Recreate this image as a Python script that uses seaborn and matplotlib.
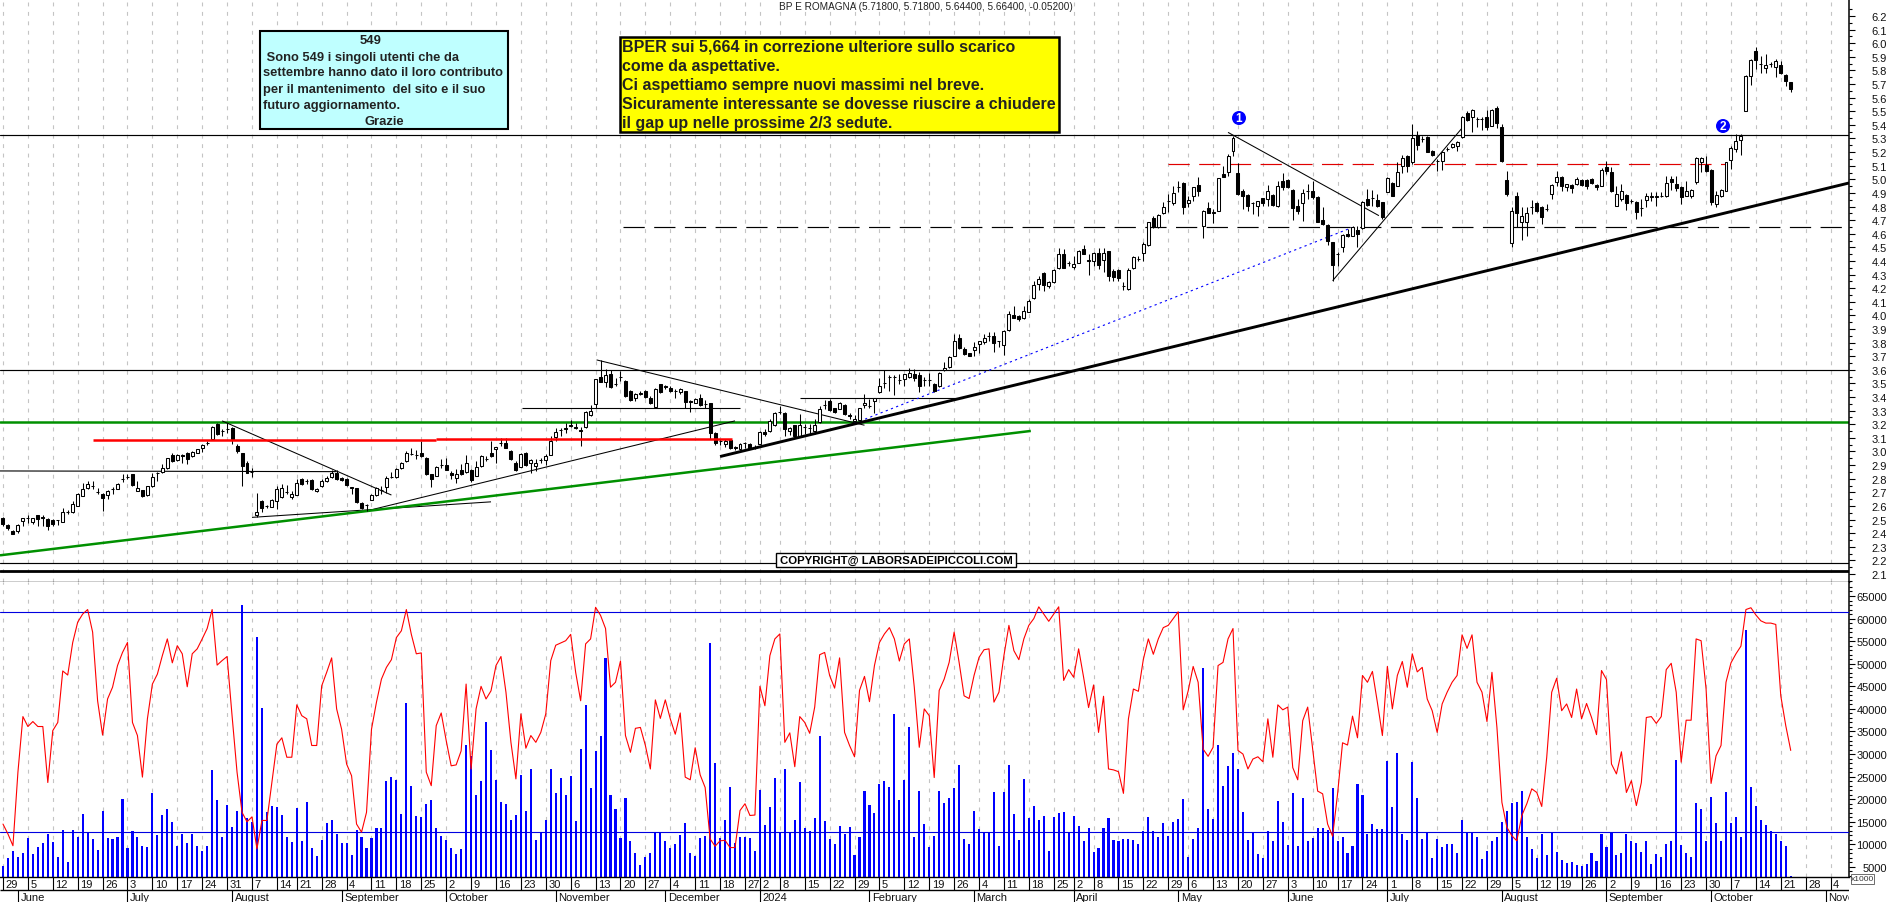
import matplotlib
matplotlib.use("Agg")
import matplotlib.pyplot as plt
import seaborn as sns
import numpy as np
import pandas as pd
from matplotlib.patches import Rectangle, Circle

opens = [
2.514,2.457,2.416,2.416,2.487,2.51,2.482,2.531,2.521,2.506,
2.5,2.497,2.484,2.558,2.558,2.602,2.675,2.732,2.746,2.705,
2.688,2.683,2.727,2.724,2.8,2.815,2.832,2.712,2.715,2.68,
2.746,2.84,2.85,2.879,2.974,2.935,2.975,2.992,2.967,2.992,
3.023,3.065,3.09,3.2,3.15,3.168,3.175,3.04,2.987,2.918,
2.85,2.531,2.636,2.597,2.595,2.636,2.666,2.705,2.666,2.683,
2.795,2.783,2.788,2.71,2.746,2.781,2.815,2.845,2.808,2.795,
2.739,2.729,2.622,2.604,2.644,2.68,2.72,2.742,2.815,2.815,
2.876,2.928,2.984,2.977,2.992,2.955,2.833,2.821,2.904,2.904,
2.845,2.808,2.867,2.85,2.867,2.821,2.894,2.948,2.992,3.021,
3.066,3.066,3.002,2.914,2.889,2.992,2.914,2.894,2.936,2.938,
2.975,3.105,3.159,3.17,3.195,3.178,3.155,3.181,3.269,3.352,
3.551,3.511,3.57,3.494,3.551,3.521,3.445,3.394,3.43,3.445,
3.396,3.328,3.494,3.48,3.47,3.445,3.438,3.443,3.37,3.359,
3.396,3.347,3.359,3.139,3.078,3.058,3.085,3.032,3.017,3.066,
3.058,3.03,3.056,3.144,3.151,3.193,3.293,3.286,3.151,3.193,
3.115,3.183,3.176,3.151,3.217,3.342,3.369,3.318,3.315,3.34,
3.266,3.225,3.232,3.342,3.335,3.372,3.438,3.506,3.551,3.551,
3.528,3.536,3.548,3.573,3.563,3.526,3.529,3.499,3.482,3.6,
3.622,3.703,3.833,3.753,3.721,3.748,3.789,3.806,3.846,3.846,
3.809,3.782,3.895,4.005,3.993,3.978,4.027,4.125,4.228,4.309,
4.218,4.243,4.348,4.451,4.387,4.358,4.387,4.485,4.405,4.402,
4.456,4.404,4.47,4.323,4.333,4.213,4.194,4.348,4.416,4.456,
4.517,4.713,4.647,4.752,4.84,4.823,4.946,4.97,4.823,4.88,
4.955,4.659,4.786,4.75,4.769,5.041,5.051,5.205,5.046,4.911,
4.884,4.826,4.806,4.86,4.855,4.884,4.801,4.99,4.995,4.921,
4.801,4.823,4.911,4.911,4.867,4.698,4.664,4.537,4.451,4.505,
4.595,4.586,4.625,4.639,4.855,4.862,4.85,4.83,4.909,4.973,
4.953,5.1,5.171,5.125,5.325,5.298,5.308,5.205,5.132,5.137,
5.225,5.24,5.247,5.308,5.485,5.455,5.443,5.445,5.455,5.394,
5.524,5.382,4.995,4.529,4.88,4.683,4.683,4.799,4.826,4.794,
4.781,4.892,4.978,5.014,4.941,4.958,4.963,4.997,4.997,5.002,
4.958,4.953,5.088,5.056,4.806,4.855,4.884,4.84,4.83,4.786,
4.848,4.867,4.867,4.88,4.875,5.002,4.965,4.941,4.88,4.88,
4.982,5.125,5.105,5.068,4.821,4.875,4.916,5.144,5.222,5.291,
5.504,5.757,5.943,5.847,5.818,5.85,5.828,5.84,5.766,5.718]

closes = [
2.465,2.435,2.396,2.46,2.511,2.514,2.511,2.506,2.514,2.452,
2.465,2.497,2.558,2.558,2.614,2.69,2.727,2.764,2.746,2.7,
2.658,2.712,2.727,2.764,2.8,2.81,2.754,2.732,2.673,2.746,
2.815,2.84,2.879,2.95,2.93,2.977,2.97,2.947,2.994,3.016,
3.048,3.065,3.183,3.13,3.15,3.168,3.094,3.0,2.893,2.845,
2.85,2.555,2.587,2.597,2.646,2.722,2.734,2.7,2.69,2.771,
2.759,2.783,2.722,2.727,2.786,2.808,2.84,2.795,2.79,2.754,
2.729,2.629,2.587,2.604,2.683,2.734,2.717,2.805,2.815,2.874,
2.918,2.991,2.984,2.972,2.968,2.833,2.801,2.889,2.904,2.865,
2.825,2.833,2.833,2.918,2.789,2.889,2.97,2.948,2.968,3.036,
3.066,3.029,2.943,2.865,2.985,2.899,2.938,2.918,2.936,2.97,
3.078,3.144,3.159,3.165,3.19,3.175,3.15,3.293,3.301,3.536,
3.514,3.565,3.475,3.494,3.551,3.409,3.379,3.426,3.425,3.401,
3.355,3.462,3.438,3.475,3.445,3.445,3.462,3.364,3.365,3.389,
3.34,3.347,3.134,3.061,3.078,3.075,3.029,3.027,3.058,3.066,
3.024,3.027,3.146,3.127,3.225,3.284,3.293,3.168,3.176,3.115,
3.193,3.183,3.176,3.198,3.315,3.342,3.306,3.291,3.359,3.274,
3.261,3.242,3.323,3.359,3.335,3.394,3.482,3.506,3.551,3.551,
3.523,3.568,3.58,3.543,3.482,3.526,3.529,3.443,3.58,3.614,
3.698,3.809,3.757,3.716,3.704,3.765,3.809,3.833,3.846,3.797,
3.809,3.887,4.01,3.983,3.973,4.029,4.108,4.223,4.267,4.223,
4.243,4.333,4.448,4.35,4.387,4.375,4.475,4.453,4.402,4.456,
4.372,4.458,4.287,4.279,4.277,4.213,4.336,4.426,4.416,4.524,
4.684,4.647,4.737,4.794,4.838,4.897,4.946,4.794,4.85,4.941,
4.916,4.769,4.755,4.762,5.007,5.019,5.174,5.303,4.892,4.875,
4.801,4.826,4.838,4.826,4.911,4.811,4.953,4.941,4.941,4.789,
4.769,4.897,4.911,4.867,4.688,4.671,4.549,4.37,4.451,4.59,
4.581,4.652,4.6,4.83,4.811,4.862,4.806,4.723,5.007,4.88,
5.053,5.154,5.1,5.301,5.252,5.295,5.203,5.178,5.132,5.203,
5.222,5.259,5.276,5.455,5.438,5.512,5.44,5.443,5.387,5.509,
5.411,5.132,4.892,4.764,4.752,4.733,4.752,4.799,4.769,4.72,
4.781,4.958,5.014,4.948,4.963,4.938,5.002,4.958,4.948,4.973,
4.946,5.066,5.063,4.916,4.892,4.916,4.823,4.838,4.757,4.786,
4.88,4.88,4.88,4.88,4.97,4.982,4.936,4.867,4.916,4.924,
5.154,5.154,5.063,4.83,4.887,4.919,5.125,5.227,5.284,5.32,
5.762,5.874,5.877,5.847,5.84,5.845,5.869,5.781,5.725,5.664]

highs = [
2.521,2.465,2.421,2.47,2.514,2.531,2.514,2.536,2.531,2.511,
2.506,2.5,2.587,2.568,2.639,2.698,2.771,2.783,2.783,2.734,
2.698,2.717,2.742,2.771,2.832,2.837,2.835,2.783,2.72,2.75,
2.845,2.85,2.906,2.955,2.987,2.985,2.98,2.996,3.0,3.02,
3.058,3.077,3.19,3.21,3.168,3.212,3.183,3.058,2.99,2.93,
2.882,2.698,2.641,2.605,2.651,2.746,2.759,2.754,2.71,2.795,
2.808,2.8,2.8,2.73,2.795,2.82,2.864,2.864,2.815,2.805,
2.742,2.734,2.629,2.612,2.69,2.742,2.746,2.82,2.85,2.881,
2.925,3.004,3.028,3.011,3.078,2.96,2.838,2.894,2.943,2.955,
2.857,2.87,2.906,2.972,2.874,2.931,2.975,2.968,3.078,3.036,
3.102,3.102,3.012,2.931,2.992,2.997,2.943,2.943,2.955,2.98,
3.115,3.176,3.176,3.212,3.23,3.212,3.183,3.298,3.342,3.536,
3.671,3.609,3.6,3.543,3.592,3.526,3.453,3.433,3.445,3.453,
3.408,3.467,3.499,3.487,3.482,3.457,3.465,3.445,3.377,3.394,
3.421,3.377,3.359,3.144,3.095,3.095,3.09,3.041,3.061,3.07,
3.063,3.046,3.151,3.163,3.237,3.291,3.335,3.291,3.183,3.198,
3.274,3.2,3.2,3.237,3.335,3.379,3.384,3.323,3.367,3.347,
3.281,3.266,3.323,3.426,3.389,3.396,3.543,3.6,3.56,3.563,
3.568,3.573,3.617,3.605,3.587,3.551,3.575,3.506,3.587,3.658,
3.703,3.863,3.863,3.765,3.726,3.802,3.814,3.863,3.88,3.875,
3.814,3.892,4.034,4.071,4.002,4.071,4.12,4.255,4.287,4.316,
4.255,4.34,4.492,4.488,4.402,4.439,4.483,4.519,4.451,4.463,
4.495,4.495,4.475,4.34,4.34,4.247,4.345,4.434,4.434,4.537,
4.688,4.733,4.745,4.83,4.892,4.953,4.985,4.978,4.88,4.946,
5.014,4.774,4.83,4.781,5.009,5.1,5.186,5.32,5.12,4.929,
4.892,4.83,4.843,4.86,4.958,4.892,4.99,5.046,5.002,4.929,
4.855,4.929,4.965,4.99,4.875,4.794,4.669,4.541,4.468,4.598,
4.634,4.659,4.654,4.843,4.929,4.924,4.892,4.835,5.014,4.978,
5.125,5.178,5.178,5.406,5.357,5.32,5.32,5.215,5.149,5.21,
5.235,5.267,5.284,5.463,5.504,5.517,5.455,5.455,5.512,5.517,
5.536,5.406,5.063,4.794,4.909,4.794,4.794,4.85,4.83,4.801,
4.818,4.965,5.063,5.022,4.965,4.963,5.014,5.002,5.002,5.007,
4.963,5.08,5.137,5.088,4.953,4.965,4.892,4.855,4.843,4.855,
4.897,4.904,4.904,4.904,5.027,5.027,5.027,4.953,4.99,4.929,
5.161,5.161,5.174,5.075,4.916,4.929,5.129,5.247,5.333,5.333,
5.766,5.884,5.97,5.908,5.921,5.864,5.884,5.872,5.774,5.718]

lows = [
2.452,2.423,2.391,2.403,2.452,2.477,2.465,2.452,2.452,2.423,
2.452,2.457,2.482,2.538,2.55,2.6,2.673,2.727,2.722,2.685,
2.563,2.653,2.685,2.722,2.778,2.795,2.75,2.707,2.668,2.675,
2.742,2.783,2.845,2.874,2.923,2.93,2.918,2.91,2.96,2.99,
2.996,3.045,3.088,3.12,3.114,3.138,3.053,2.99,2.746,2.84,
2.812,2.521,2.555,2.585,2.59,2.58,2.66,2.685,2.648,2.68,
2.754,2.759,2.717,2.705,2.742,2.776,2.808,2.79,2.785,2.746,
2.685,2.624,2.575,2.563,2.641,2.673,2.685,2.698,2.808,2.808,
2.874,2.923,2.972,2.947,2.963,2.825,2.74,2.818,2.882,2.862,
2.796,2.772,2.828,2.845,2.776,2.818,2.889,2.931,2.963,2.914,
3.041,3.024,2.938,2.857,2.887,2.894,2.845,2.857,2.914,2.899,
2.972,3.078,3.115,3.139,3.183,3.163,3.041,3.176,3.262,3.323,
3.507,3.477,3.47,3.482,3.519,3.404,3.374,3.372,3.413,3.396,
3.35,3.323,3.433,3.462,3.44,3.396,3.421,3.323,3.291,3.355,
3.335,3.323,3.095,3.046,3.051,3.036,3.017,3.012,3.012,3.029,
3.019,3.017,3.053,3.115,3.144,3.188,3.274,3.115,3.119,3.11,
3.11,3.127,3.127,3.127,3.212,3.315,3.301,3.281,3.31,3.269,
3.237,3.217,3.23,3.323,3.318,3.281,3.433,3.47,3.445,3.413,
3.494,3.482,3.543,3.519,3.438,3.482,3.482,3.438,3.477,3.595,
3.617,3.699,3.753,3.711,3.699,3.704,3.723,3.789,3.814,3.728,
3.765,3.708,3.887,3.98,3.961,3.973,4.022,4.12,4.189,4.181,
4.201,4.238,4.343,4.345,4.365,4.34,4.385,4.451,4.299,4.365,
4.34,4.316,4.255,4.255,4.255,4.189,4.189,4.34,4.402,4.402,
4.512,4.639,4.642,4.745,4.757,4.813,4.909,4.745,4.794,4.843,
4.875,4.566,4.75,4.679,4.767,5.014,5.022,5.174,4.887,4.782,
4.769,4.745,4.733,4.801,4.801,4.801,4.796,4.924,4.933,4.703,
4.745,4.696,4.855,4.855,4.684,4.666,4.519,4.255,4.365,4.463,
4.576,4.581,4.502,4.634,4.806,4.806,4.794,4.708,4.904,4.875,
4.948,5.046,5.051,5.112,5.218,5.271,5.198,5.173,5.063,5.071,
5.205,5.23,5.21,5.301,5.431,5.345,5.382,5.365,5.362,5.389,
5.374,5.125,4.88,4.5,4.647,4.556,4.581,4.745,4.757,4.671,
4.769,4.855,4.953,4.916,4.916,4.899,4.958,4.953,4.929,4.965,
4.924,4.948,5.039,4.909,4.801,4.843,4.777,4.826,4.708,4.733,
4.794,4.843,4.806,4.867,4.867,4.924,4.916,4.818,4.875,4.862,
4.965,5.051,5.056,4.811,4.799,4.872,4.914,5.075,5.203,5.178,
5.502,5.693,5.81,5.781,5.781,5.823,5.754,5.774,5.683,5.644]

volume_2023 = [
5.3,7.0,8.5,7.1,8.2,11.5,7.9,9.5,10.3,12.3,10.6,7.2,13.2,6.2,13.2,11.6,16.7,12.7,11.3,8.8,
17.5,11.4,11.2,11.6,20.1,9.2,12.9,11.6,9.6,9.4,21.4,12.1,16.5,17.8,15,9.6,12.4,10.2,12.4,9.6,
8.6,9.6,26.4,19.8,11.6,18.7,13.9,17.3,63,15.8,14.9,56,40.3,17.2,18.4,18.3,16.5,11.6,10.5,18.1,
10.8,19.3,9.1,7.5,11,14.7,15.3,12.3,10.3,10.2,7.6,13.2,11.6,9.1,11.5,13.6,13.6,24.0,24.9,24.3,
16.7,41.3,22.9,16.2,16.1,18.9,19.8,13.6,11.9,11,9.2,7.9,9,32,29.6,20.9,24,37.1,30.8,24.2,
19.3,19,15.3,16.5,25.4,17.3,26.8,11,12.7,15.5,26.8,21.3,24.6,20.9,25.1,15.2,31.1,40.9,22.4,30.6,
33.9,51.2,21,17.8,11.5,20.3]
volume_mid = [
10.8,8.2,5.4,7.1,8.2,12.7,12.7,10.7,9.1,10.1,12.1,14.7,8.2,7.5,11.4,11.9,54.6,28,11.5,15.5,
22.6,10.3,11.6,11.6,11.5,8.5,22,14.4,18.3,24.6,12.7,26.6,12.7,15.4,23.8,13.6,13,15.8,33.9,15.2,
11.1,10,14.1,12.4,13.9,7.6,11.6,21.8,18.7,17,23.3,24,22.7,38.8,19.8,24.3,35.9,11.6,21.8,14.5,
9.4,11.8,21.8,19.2,20.2,22.4,27.5,11.3,10.1,17.4,13.4,12.7,12.7,21.5,9.6,21.5,27.5,16.7,11,24.5,
15.8,18.5,15.4,16.3,8.5,16.1,16.9,17.2,12.7,16.2,14.1,10.7,13.6,8.4,9.2,13.6,15.8,11,10.7,11.1,
11.2,11,10.1,12.9,16.1,13,11.6,14.7,11.8,14.9,15.6,20,7.1,11.1,13.6,49.1,17.8,15.6,32,22.9,
27.4,30.2,26.6,17.1,11,12.7,7.9]
volume_2024 = [
7.0,12.9,10.8,19.5,15,9.9,21.3,9.6,20.2,10.8,11.4,13.6,13.6,13.2,22.4,10.7,11.6,8.2,9.6,23.4,
21,12.4,14.5,13.4,13.4,28.5,18.2,30.2,12.4,10.9,28.2,20.2,11.3,12.6,7,11.2,9.4,10.1,10,8.2,
15.5,12.6,12.6,11.6,6.8,8.5,10.8,11.6,15,17.5,19.1,19.3,21.8,11.6,8.9,7,12.3,7.6,12.7,8.3,
6.5,5.9,6,5.5,5.3,5.7,8.2,6.3,12.4,9.4,12.7,7.7,8.2,12.2,10.8,10.2,8.4,10.8,5.7,7.9,
7.2,10.1,10.8,28.7,9.9,8.2,7.1,19.1,17.8,10.7,20.6,14.7,10.8,21.6,14.7,16.1,11.6,57.5,22.6,18.6,
15.5,14.4,12.9,12.3,10.8,9.6,3]

oscillator = [
14.5,12.3,9.7,26,38.3,36.1,37.2,36.1,36.1,23.7,
35.2,37,48.4,47.5,54.7,59.2,61,62,57,41.8,
34.2,42.2,44.8,49.6,52.5,54.7,37,34.1,24.9,37.8,
45.5,47.7,51.8,55.5,50.2,54,52.2,44.9,52.2,53.3,
55.5,57.8,62,49.7,50.7,51.6,38.5,26,17.1,15,
16.1,9,15.3,15.3,23.7,32.2,33.6,29.3,29.3,40.9,
38.5,37.8,31.9,31.9,45.1,48.1,51.3,40,35.5,27.8,
25.2,14.5,12.7,17.1,35.5,41.5,46.6,49.2,50.9,55.8,
57.3,62,56.5,52.2,52.4,26,23,36.3,39.1,33,
27.4,27.6,30.7,45.5,26.7,40,45,42.2,44,49.6,
51.6,43.7,32.6,24.5,38.9,31.3,34.1,32.6,34.8,38.9,
50.7,54.1,54.6,55.1,56.5,48.1,41.8,54.4,55.5,62.5,
60.7,57.8,44.8,45.9,50.6,34.1,30.4,35.7,35.9,31.9,
26.7,42,37.9,42,37.8,34.4,39.1,24.9,24.3,31.4,
25.4,22.6,11.2,9.6,10.8,10.9,9.3,9.3,17.5,19,
16.4,16.5,45,40.7,51.8,55.5,56.6,32.6,34.7,27.2,
38.3,37,34.6,40.4,52,52.5,47.4,44.6,51.3,34.8,
31.9,29.4,44.1,47.2,41.6,49.6,54.7,56.6,58,55.5,
50.6,54.4,55.5,44.8,31.5,40,38.5,24.8,44.1,46.6,
50.3,57,50.3,42.9,42.3,47.4,51.4,53.1,53.3,41.5,
43.7,51.8,58.5,52.9,50.9,55.5,58.5,60,62.6,61,
59.4,61,62.6,46.3,48.7,47,53.3,47,40.3,45.3,
34.8,42.8,26.7,26.5,26.1,21.3,37.8,44.4,43.9,51,
55.5,52.1,55.5,58,58.5,60,61.5,39.8,44,49.4,
45.9,31.1,29.5,31.5,49.6,50.3,55.5,57.8,30.8,30,
26.7,28.9,29.4,28.3,37.8,29.3,40.9,39.8,40.4,27,
24.3,37.4,40.4,31.1,21.8,21.2,14.5,11.8,21.2,32.5,
32,38.4,33.6,47.4,45.9,48.3,41.4,34.1,49.4,40,
47.4,50.5,44.8,52.2,48.2,49.2,42.2,39.6,34.8,41.1,
43.7,45.9,47.4,56.4,53.4,56.4,45.9,43.7,37.2,48.1,
35.9,19.3,13.8,11.9,10.8,16.4,19,22.3,21.5,18.4,
29.3,43.7,46.8,39.6,41.1,38.1,44.4,37.8,41.2,38.1,
34.3,48.5,46.5,27.8,25.6,30.5,21.5,24.1,18.6,23.7,
38.1,38.3,36.8,38.3,48.7,50.1,43.7,28.2,37.5,37.5,
55.5,55.1,44.4,23.5,29.6,31.9,45.9,50.2,52.2,53.9,
62,62.4,60.8,59.5,59,59,58.7,42.9,36.3,30.8]

week_labels = ["29","5","12","19","26","3","10","17","24","31","7","14","21","28","4","11","18","25","2","9","16","23","30","6","13","20","27","4","11","18","27","2","8","15","22","29","5","12","19","26","4","11","18","25","2","8","15","22","29","6","13","20","27","3","10","17","24","1","8","15","22","29","5","12","19","26","2","9","16","23","30","7","14","21","28","4"]
week_bars = [0,5,10,15,20,25,30,35,40,45,50,55,59,64,69,74,79,84,89,94,99,104,109,114,119,124,129,134,139,144,149,152,156,161,166,171,176,181,186,191,196,201,206,211,215,219,224,229,234,238,243,248,253,258,263,268,273,278,283,288,293,298,303,308,312,317,322,327,332,337,342,347,352,357,362,367]
month_labels = ["June","July","August","September","October","November","December","2024","February","March","April","May","June","July","August","September","October","Nove"]
month_bars = [3,25,46,68,89,111,133,152,174,195,215,236,258,278,301,322,343,366]
price_ticks = [round(2.1 + 0.1*k, 1) for k in range(42)]
volume_ticks = list(range(5000, 65001, 5000))

total = len(opens)
volumes = volume_2023 + volume_mid + volume_2024

bars = pd.DataFrame({"bar": np.arange(total), "open": opens, "high": highs, "low": lows, "close": closes,
                     "volume": np.array(volumes)*1000, "osc": np.array(oscillator)*1000})

# reference lines: (bar0, price0, bar1, price1)
flat_full = [5.323, 3.602]
hline_segments = [(-0.6,2.857,67,2.852),(104.2,3.323,148,3.323),(160,3.396,192.7,3.396)]
thin_trends = [(44,3.225,78,2.68),(50,2.516,98,2.63),(73,2.563,147,3.225),(119.2,3.673,173,3.193),(246,5.345,276.3,4.733),(267,4.255,293.4,5.394)]
green_trend = (-0.6,2.237,206.4,3.151)
thick_trend = (144,2.963,370.7,4.973)
red_level = [(18,3.085,87,3.085),(87,3.093,146.3,3.093)]
red_dash = (234,5.11,346.3,5.11)
black_dash = (124.5,4.647,370.7,4.647)
blue_dots = (170,3.193,271,4.647)
floor_lines = [2.183, 2.119]

sns.set_theme(style="white")
plt.rcParams["font.family"] = ["Liberation Sans", "DejaVu Sans"]
W, H = 1890, 903
fig = plt.figure(figsize=(W/100, H/100), dpi=100, facecolor="white")
AX_R = 1849
ax1 = fig.add_axes([0, 1-583/H, AX_R/W, 583/H])
ax2 = fig.add_axes([0, 25/H, AX_R/W, 295/H])
ax3 = fig.add_axes([0, 0, AX_R/W, 25/H])
XL = (-0.6, 370.7)
GRID = "#c4c4c4"

for ax in (ax1, ax2):
    ax.set_facecolor("white")
    ax.vlines(week_bars, 0, 1, transform=ax.get_xaxis_transform(), color=GRID, lw=0.8, linestyles=(0,(3.5,5)), zorder=0)

# volume and oscillator
sns.barplot(data=bars, x="bar", y="volume", native_scale=True, color="#0000ff", saturation=1, width=0.42, linewidth=0, ax=ax2, zorder=2)
ax2.axhline(61500, color="#0000e0", lw=0.8, zorder=3)
ax2.axhline(12700, color="#0000e0", lw=0.8, zorder=3)
sns.lineplot(data=bars, x="bar", y="osc", color="#ff0000", lw=0.8, errorbar=None, ax=ax2, zorder=4)

# candles
up = bars[bars.close >= bars.open]
down = bars[bars.close < bars.open]
ax1.vlines(bars.bar, bars.low, bars.high, color="black", lw=0.75, zorder=3)
ax1.bar(up.bar, (up.close-up.open), bottom=up.open, width=0.6, facecolor="white", edgecolor="black", lw=0.75, zorder=4)
ax1.bar(down.bar, (down.open-down.close), bottom=down.close, width=0.6, facecolor="black", edgecolor="black", lw=0.75, zorder=4)

def seg(ax, s, **kw):
    ax.plot([s[0], s[2]], [s[1], s[3]], solid_capstyle="butt", dash_capstyle="butt", **kw)

for p in flat_full:
    ax1.axhline(p, color="black", lw=0.85, zorder=2)
ax1.axhline(3.217, color="#009000", lw=1.8, zorder=2)
for p, lw in zip(floor_lines, (0.85, 2.0)):
    ax1.axhline(p, color="black", lw=lw, zorder=2)
for s in hline_segments:
    seg(ax1, s, color="black", lw=0.8, zorder=2)
for s in thin_trends:
    seg(ax1, s, color="black", lw=0.75, zorder=2)
seg(ax1, green_trend, color="#009000", lw=1.8, zorder=2)
seg(ax1, thick_trend, color="black", lw=2.1, zorder=5)
for s in red_level:
    seg(ax1, s, color="#ff0000", lw=1.8, zorder=5)
seg(ax1, red_dash, color="#e00000", lw=0.85, ls=(0,(18,8)), zorder=2)
seg(ax1, black_dash, color="black", lw=0.85, ls=(0,(18,8)), zorder=2)
seg(ax1, blue_dots, color="#0000ff", lw=0.8, ls=(0,(2,3)), zorder=2)

ax1.set_xlim(*XL); ax2.set_xlim(*XL); ax3.set_xlim(*XL)
ax1.set_ylim(2.041, 6.325)
ax2.set_ylim(2780, 68100)
ax3.set_ylim(25, 0)

for ax in (ax1, ax2):
    ax.set_xticks([]); ax.set_xlabel(""); ax.set_ylabel("")
    for s in ("top", "left"):
        ax.spines[s].set_visible(False)
    ax.spines["right"].set_color("black"); ax.spines["right"].set_linewidth(1.1)
    ax.spines["bottom"].set_color("black"); ax.spines["bottom"].set_linewidth(1.0)
    ax.yaxis.tick_right()

ax1.set_yticks(price_ticks, [f"{p:.1f}" for p in price_ticks])
ax1.set_yticks([round(2.05+0.1*k, 2) for k in range(43)], minor=True)
ax2.set_yticks(volume_ticks, [str(v) for v in volume_ticks])
ax2.set_yticks(list(range(3000, 68000, 1000)), minor=True)
PAD = 23
for ax in (ax1, ax2):
    ax.tick_params(axis="y", which="major", length=4.5, width=0.8, color="black", pad=PAD, labelsize=8, labelcolor="#111111", right=True, left=False, labelright=True, labelleft=False)
    ax.tick_params(axis="y", which="minor", length=2.3, width=0.8, color="black", right=True, left=False)
    for lab in ax.get_yticklabels():
        lab.set_ha("right")

# date strip
ax3.axis("off")
ax3.hlines(13, XL[0], XL[1], color="black", lw=1.0)
ax3.vlines(week_bars, 0, 13, color="black", lw=0.8)
ax3.vlines(month_bars, 13, 25, color="black", lw=0.8)
for b, t in zip(week_bars, week_labels):
    ax3.text(b+0.5, 6.8, t, fontsize=8, ha="left", va="center", color="#111111")
for b, t in zip(month_bars, month_labels):
    ax3.text(b+0.5, 20, t, fontsize=8, ha="left", va="center", color="#111111", clip_on=True)

# overlay annotations in pixels
ov = fig.add_axes([0, 0, 1, 1], zorder=20)
ov.set_xlim(0, W); ov.set_ylim(H, 0); ov.axis("off"); ov.patch.set_alpha(0)
ov.add_patch(Rectangle((260, 32), 248, 98, fc="#bfffff", ec="black", lw=1.5))
ov.text(371, 41, "549", fontsize=9.4, ha="center", va="center", fontweight="bold", color="#222222")
cy = [" Sono 549 i singoli utenti che da", "settembre hanno dato il loro contributo", "per il mantenimento  del sito e il suo", "futuro aggiornamento."]
for i, t in enumerate(cy):
    ov.text(263, 57.5+16*i, t, fontsize=9.3, ha="left", va="center", fontweight="bold", color="#222222")
ov.text(384, 122, "Grazie", fontsize=9.4, ha="center", va="center", fontweight="bold", color="#222222")

ov.add_patch(Rectangle((620, 38), 439, 95, fc="#ffff00", ec="black", lw=1.8))
yl = ["BPER sui 5,664 in correzione ulteriore sullo scarico", "come da aspettative.", "Ci aspettiamo sempre nuovi massimi nel breve.", "Sicuramente interessante se dovesse riuscire a chiudere", "il gap up nelle prossime 2/3 sedute."]
for i, t in enumerate(yl):
    ov.text(622, 47.5+18.9*i, t, fontsize=11.5, ha="left", va="center", fontweight="bold", color="#222222")

ov.text(779, 7, "BP E ROMAGNA (5.71800, 5.71800, 5.64400, 5.66400, -0.05200)", fontsize=7.2, ha="left", va="center", color="#222222")
ov.add_patch(Rectangle((775.5, 554), 240.5, 13.5, fc="white", ec="black", lw=1.0))
ov.text(896, 561, "COPYRIGHT@ LABORSADEIPICCOLI.COM", fontsize=8.2, ha="center", va="center", fontweight="bold", color="black")

for (cx, cyy, n) in [(1239, 119, "1"), (1723, 127, "2")]:
    ov.add_patch(Circle((cx, cyy), 7, fc="#0000ff", ec="none"))
    ov.text(cx, cyy+0.3, n, fontsize=8.6, color="white", ha="center", va="center", fontweight="bold")

ov.add_patch(Rectangle((1851, 875), 23, 10, fc="white", ec="#555555", lw=0.6))
ov.text(1862.5, 880, "x1000", fontsize=6, ha="center", va="center", color="#333333")

fig.savefig("out.png", dpi=100, facecolor="white")
